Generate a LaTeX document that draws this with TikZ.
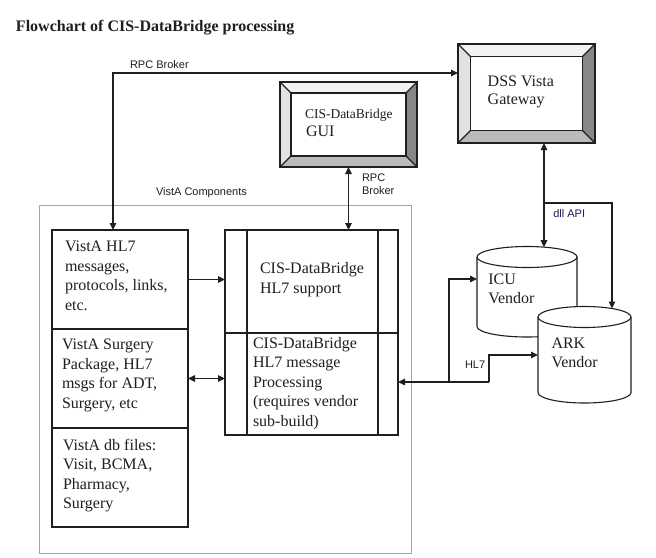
\documentclass[tikz,border=0pt]{standalone}
\usepackage{fontspec}
\setmainfont{Liberation Serif}
\newfontfamily\arialfont{Liberation Sans}
\usetikzlibrary{arrows.meta}
\definecolor{pinkline}{RGB}{192,152,160}
\definecolor{navy}{RGB}{30,30,85}
\definecolor{bvtop}{RGB}{242,242,242}
\definecolor{bvleft}{RGB}{226,226,226}
\definecolor{bvright}{RGB}{135,135,135}
\definecolor{bvbottom}{RGB}{186,186,186}
\newcommand\mybevel[2]{%
  \fill[bvtop] (#1.north west) -- (#1.north east) -- ([xshift=-#2pt,yshift=-#2pt]#1.north east) -- ([xshift=#2pt,yshift=-#2pt]#1.north west) -- cycle;
  \fill[bvleft] (#1.north west) -- ([xshift=#2pt,yshift=-#2pt]#1.north west) -- ([xshift=#2pt,yshift=#2pt]#1.south west) -- (#1.south west) -- cycle;
  \fill[bvright] (#1.north east) -- (#1.south east) -- ([xshift=-#2pt,yshift=#2pt]#1.south east) -- ([xshift=-#2pt,yshift=-#2pt]#1.north east) -- cycle;
  \fill[bvbottom] (#1.south west) -- (#1.south east) -- ([xshift=-#2pt,yshift=#2pt]#1.south east) -- ([xshift=#2pt,yshift=#2pt]#1.south west) -- cycle;
  \draw (#1.north west) rectangle (#1.south east);
  \draw ([xshift=#2pt,yshift=-#2pt]#1.north west) rectangle ([xshift=-#2pt,yshift=#2pt]#1.south east);
  \draw (#1.north west) -- ([xshift=#2pt,yshift=-#2pt]#1.north west);
  \draw (#1.north east) -- ([xshift=-#2pt,yshift=-#2pt]#1.north east);
  \draw (#1.south west) -- ([xshift=#2pt,yshift=#2pt]#1.south west);
  \draw (#1.south east) -- ([xshift=-#2pt,yshift=#2pt]#1.south east);
}
\begin{document}
\begin{tikzpicture}[x=1pt,y=-1pt, line width=1.1pt, color={black!88},
  every node/.style={inner sep=0pt, outer sep=0pt},
  arr/.style={-{Triangle[length=7pt,width=6.5pt]}},
  darr/.style={{Triangle[length=7pt,width=6.5pt]}-{Triangle[length=7pt,width=6.5pt]}},
  serif/.style={font=\fontsize{16}{19.5}\selectfont, align=left, anchor=north west},
  sans/.style={font=\arialfont\fontsize{11}{12.5}\selectfont, anchor=base west},
  box/.style={draw, rectangle, anchor=north west}
]
\useasboundingbox (0,0) rectangle (656,557);
\fill[white] (0,0) rectangle (656,557);

% title
\node[font=\bfseries\fontsize{16}{19}\selectfont, anchor=base west] (title) at (16,31) {Flowchart of CIS-DataBridge processing};

% outer VistA components frame
\node[draw=pinkline, line width=0.9pt, rectangle, anchor=north west, minimum width=372pt, minimum height=348pt] (vista) at (39,205) {};
\node[sans] (vistalbl) at (156,195) {VistA Components};

% bevelled boxes
\node[rectangle, anchor=north west, minimum width=137pt, minimum height=85pt] (gui) at (280,82) {};
\mybevel{gui}{11}
\node[font=\fontsize{13.5}{16}\selectfont, anchor=base west] (guit1) at (305,118) {CIS-DataBridge};
\node[font=\fontsize{16}{19}\selectfont, anchor=base west] (guit2) at (306,136.7) {GUI};

\node[rectangle, anchor=north west, minimum width=137pt, minimum height=99pt] (dss) at (458,44) {};
\mybevel{dss}{12.5}
\node[serif, font=\fontsize{16}{18.5}\selectfont] (dsstxt) at (487.7,75.9) {DSS Vista\\Gateway};

% left column
\node[box, minimum width=136pt, minimum height=99pt] (hl7) at (52,230) {};
\node[box, minimum width=136pt, minimum height=99pt] (surg) at (52,329) {};
\node[box, minimum width=136pt, minimum height=99pt] (dbf) at (52,428) {};
\node[serif] (hl7txt) at (65,241.2) {VistA HL7\\messages,\\protocols, links,\\etc.};
\node[serif] (surgtxt) at (62,339.2) {VistA Surgery\\Package, HL7\\msgs for ADT,\\Surgery, etc};
\node[serif] (dbftxt) at (63,439.2) {VistA db files:\\Visit, BCMA,\\Pharmacy,\\Surgery};

% middle column
\node[box, minimum width=173pt, minimum height=103pt] (midtop) at (225,230) {};
\node[box, minimum width=173pt, minimum height=102pt] (midbot) at (225,333) {};
\draw ([xshift=22pt]midtop.north west) -- ([xshift=22pt]midbot.south west);
\draw ([xshift=-20pt]midtop.north east) -- ([xshift=-20pt]midbot.south east);
\node[serif, font=\fontsize{16}{20}\selectfont] (midtoptxt) at (260,262.5) {CIS-DataBridge\\HL7 support};
\node[serif] (midbottxt) at (253,337.2) {CIS-DataBridge\\HL7 message\\Processing\\(requires vendor\\sub-build)};

% cylinders
\filldraw[fill=white] (477,257) -- (477,326.5) arc[start angle=180, end angle=360, x radius=50pt, y radius=10.5pt] -- (577,257) arc[start angle=0, end angle=180, x radius=50pt, y radius=10.5pt] -- cycle;
\draw (477,257) arc[start angle=180, end angle=360, x radius=50pt, y radius=10.5pt];
\filldraw[fill=white] (538,317) -- (538,392.5) arc[start angle=180, end angle=360, x radius=46.5pt, y radius=10.5pt] -- (631,317) arc[start angle=0, end angle=180, x radius=46.5pt, y radius=10.5pt] -- cycle;
\draw (538,317) arc[start angle=180, end angle=360, x radius=46.5pt, y radius=10.5pt];
\node[serif, font=\fontsize{16}{19}\selectfont] (icu) at (488.3,274.2) {ICU\\Vendor};
\node[serif, font=\fontsize{16}{18.7}\selectfont] (ark) at (551.5,338.2) {ARK\\Vendor};
\coordinate (icuTop) at (544,247.2);
\coordinate (icuLeft) at (477,279);
\coordinate (arkTop) at (612,308.5);
\coordinate (arkLeft) at (538,355);
\coordinate (dllBr) at (544,203);
\coordinate (hlA) at (449,382);
\coordinate (hlB) at (489,382);

% connectors
\draw[darr] ([xshift=-7pt]hl7.north) |- ([yshift=20.5pt]dss.west);
\node[sans] (rpc1) at (130,68) {RPC Broker};
\draw[darr] (gui.south) -- (gui.south |- midtop.north);
\node[sans, anchor=north west, align=left] (rpc2) at (362,174) {RPC\\Broker};
\draw[darr] (dss.south -| icuTop) -- (icuTop);
\draw[arr] (dllBr) -| (arkTop);
\node[sans, text=navy] (dll) at (553.3,217) {dll API};
\draw[arr] (hl7.east) -- (hl7.east -| midtop.west);
\draw[darr] (surg.east) -- (surg.east -| midbot.west);
\draw[arr] (hlB) -- (hlB -| midbot.east);
\draw[arr] (hlA) |- (icuLeft);
\draw[arr] (hlB) |- (arkLeft);
\node[sans] (hl7lbl) at (465,368) {HL7};
\end{tikzpicture}
\end{document}
